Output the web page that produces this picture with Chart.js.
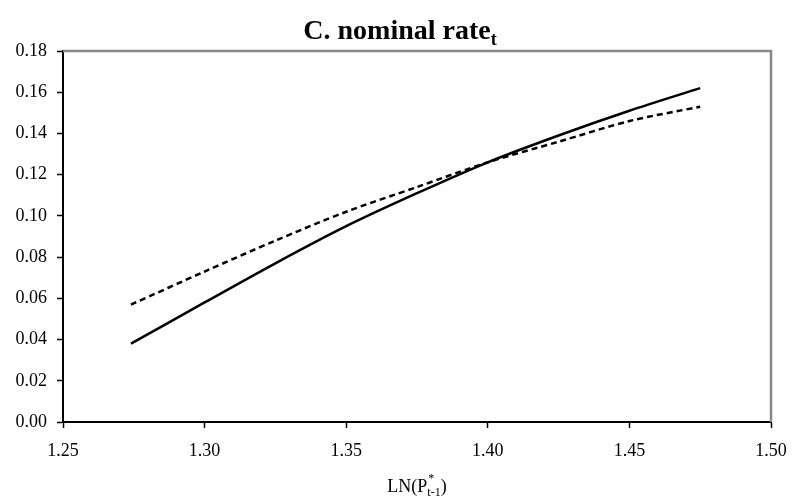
<!DOCTYPE html>
<html>
<head>
<meta charset="utf-8">
<script src="https://cdn.jsdelivr.net/npm/chart.js@4"></script>
<style>
  html, body { margin: 0; padding: 0; background: #fff; }
  #wrap { width: 793px; height: 502px; }
</style>
</head>
<body>
<div id="wrap"><canvas id="chart" width="793" height="502"></canvas></div>
<script>
/* =====================================
   Data
===================================== */
const xValues      = [1.274, 1.30, 1.325, 1.35, 1.375, 1.40, 1.425, 1.45, 1.475];
const solidValues  = [0.038, 0.058, 0.077, 0.095, 0.111, 0.126, 0.139, 0.151, 0.162];
const dashedValues = [0.057, 0.073, 0.088, 0.102, 0.114, 0.126, 0.136, 0.146, 0.153];
const xTicks = [1.25, 1.30, 1.35, 1.40, 1.45, 1.50];
const yTicks = [0.00, 0.02, 0.04, 0.06, 0.08, 0.10, 0.12, 0.14, 0.16, 0.18];

const serif = "'Liberation Serif', 'Times New Roman', serif";

function toPoints(xs, ys) {
    return xs.map((x, i) => ({ x: x, y: ys[i] }));
}

/* =====================================
   Title with subscript + gray frame
===================================== */
const framePlugin = {
    id: "frame",
    afterDraw(chart) {
        const ctx = chart.ctx;
        const a = chart.chartArea;
        ctx.save();
        // gray top and right border
        ctx.strokeStyle = "#888888";
        ctx.lineWidth = 2.5;
        ctx.beginPath();
        ctx.moveTo(a.left, a.top);
        ctx.lineTo(a.right, a.top);
        ctx.lineTo(a.right, a.bottom);
        ctx.stroke();

        // title
        ctx.fillStyle = "#000";
        ctx.textBaseline = "alphabetic";
        const main = "C. nominal rate";
        ctx.font = "bold 28px " + serif;
        const w1 = ctx.measureText(main).width;
        ctx.font = "bold 18px " + serif;
        const w2 = ctx.measureText("t").width;
        const startX = 400 - (w1 + w2) / 2;
        ctx.font = "bold 28px " + serif;
        ctx.fillText(main, startX, 39);
        ctx.font = "bold 18px " + serif;
        ctx.fillText("t", startX + w1, 45);

        // x axis title LN(P*t-1)
        const cx = (a.left + a.right) / 2;
        const y0 = 492;
        ctx.font = "18px " + serif;
        const p1 = "LN(P";
        const wp1 = ctx.measureText(p1).width;
        ctx.font = "12px " + serif;
        const wStar = ctx.measureText("*").width;
        const wSub = ctx.measureText("t-1").width;
        ctx.font = "18px " + serif;
        const wClose = ctx.measureText(")").width;
        const total = wp1 + Math.max(wStar, wSub) + wClose;
        let px = cx - total / 2;
        ctx.fillText(p1, px, y0);
        px += wp1;
        ctx.font = "12px " + serif;
        ctx.fillText("*", px + 1, y0 - 10);
        ctx.fillText("t-1", px, y0 + 4);
        px += Math.max(wStar, wSub);
        ctx.font = "18px " + serif;
        ctx.fillText(")", px, y0);
        ctx.restore();
    }
};

/* =====================================
   Chart
===================================== */
const ctx = document.getElementById("chart");

new Chart(ctx, {
    type: "scatter",
    data: {
        datasets: [
            {
                label: "solid",
                data: toPoints(xValues, solidValues),
                showLine: true,
                borderColor: "#000",
                borderWidth: 2.5,
                pointRadius: 0,
                tension: 0.3
            },
            {
                label: "dashed",
                data: toPoints(xValues, dashedValues),
                showLine: true,
                borderColor: "#000",
                borderWidth: 2.5,
                borderDash: [6, 4],
                pointRadius: 0,
                tension: 0.3
            }
        ]
    },
    options: {
        responsive: false,
        animation: false,
        devicePixelRatio: 1,
        layout: { padding: { top: 51, right: 22, left: 0, bottom: 0 } },
        plugins: {
            legend: { display: false },
            tooltip: { enabled: false },
            title: { display: false }
        },
        scales: {
            x: {
                type: "linear",
                min: 1.25,
                max: 1.50,
                afterBuildTicks(scale) {
                    scale.ticks = xTicks.map(v => ({ value: v }));
                },
                afterFit(scale) {
                    scale.height = 80;
                    scale.paddingLeft = 0;
                    scale.paddingRight = 0;
                },
                ticks: {
                    color: "#000",
                    font: { family: serif, size: 18 },
                    padding: 12,
                    maxRotation: 0,
                    callback: v => v.toFixed(2)
                },
                grid: {
                    drawOnChartArea: false,
                    drawTicks: true,
                    tickLength: 6,
                    tickColor: "#000",
                    tickWidth: 1.5
                },
                border: { color: "#000", width: 2 }
            },
            y: {
                min: 0,
                max: 0.18,
                afterBuildTicks(scale) {
                    scale.ticks = yTicks.map(v => ({ value: v }));
                },
                afterFit(scale) {
                    scale.width = 63;
                    scale.paddingTop = 0;
                    scale.paddingBottom = 0;
                },
                ticks: {
                    color: "#000",
                    font: { family: serif, size: 18 },
                    padding: 10,
                    callback: v => v.toFixed(2)
                },
                grid: {
                    drawOnChartArea: false,
                    drawTicks: true,
                    tickLength: 6,
                    tickColor: "#000",
                    tickWidth: 1.5
                },
                border: { color: "#000", width: 2 }
            }
        }
    },
    plugins: [framePlugin]
});
</script>
</body>
</html>
